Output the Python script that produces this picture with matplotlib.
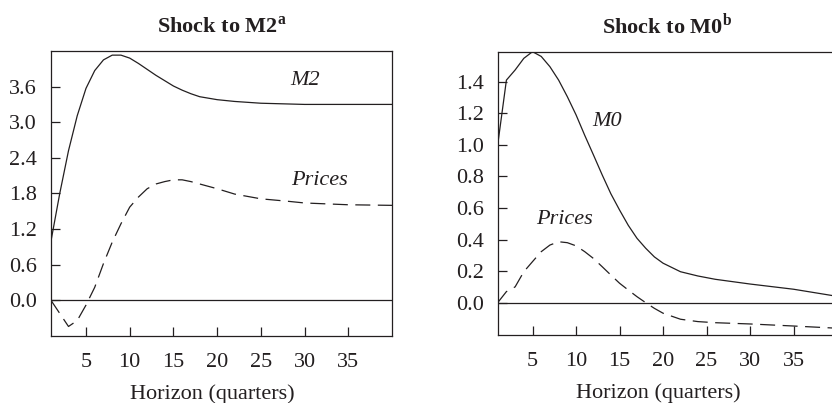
import matplotlib
matplotlib.use('Agg')
import matplotlib.pyplot as plt
import numpy as np

plt.rcParams['font.family'] = 'Liberation Serif'
plt.rcParams['mathtext.fontset'] = 'custom'
plt.rcParams['mathtext.rm'] = 'Liberation Serif'
plt.rcParams['mathtext.bf'] = 'Liberation Serif:bold'

ink = '#231f20'

# Shock to M2 (left panel)
m2_h = [1, 2, 3, 4, 5, 6, 7, 8, 9, 10, 11, 12, 13, 14, 15, 16, 17, 18, 20, 22, 25, 30, 35, 40]
m2_resp = [1.0, 1.80, 2.52, 3.11, 3.57, 3.87, 4.05, 4.13, 4.13, 4.08, 3.99, 3.89, 3.79,
           3.70, 3.61, 3.54, 3.48, 3.43, 3.38, 3.35, 3.32, 3.30, 3.30, 3.30]
p2_h = [1, 3, 4, 5, 6, 7, 8, 9, 10, 11, 12, 13, 14, 15, 16, 17, 18, 20, 22, 25, 28, 30, 35, 40]
p2_resp = [0.0, -0.44, -0.34, -0.08, 0.22, 0.62, 0.98, 1.29, 1.57, 1.74, 1.88, 1.96,
           2.00, 2.03, 2.03, 2.00, 1.96, 1.88, 1.79, 1.71, 1.67, 1.64, 1.61, 1.60]

# Shock to M0 (right panel)
m0_h = [1, 2, 3, 4, 5, 6, 7, 8, 9, 10, 11, 12, 13, 14, 15, 16, 17, 18, 19, 20,
        22, 24, 26, 28, 30, 35, 40]
m0_resp = [1.0, 1.41, 1.474, 1.548, 1.59, 1.56, 1.495, 1.41, 1.305, 1.19, 1.06, 0.936,
           0.81, 0.69, 0.587, 0.49, 0.408, 0.345, 0.29, 0.25, 0.196, 0.169, 0.148,
           0.133, 0.118, 0.085, 0.04]
p0_h = [1, 2, 3, 4, 5, 6, 7, 8, 9, 10, 11, 12, 13, 14, 15, 16, 17, 18, 19, 20,
        22, 24, 26, 30, 35, 40]
p0_resp = [0.0, 0.07, 0.10, 0.196, 0.26, 0.323, 0.365, 0.386, 0.38, 0.36, 0.323, 0.28,
           0.228, 0.175, 0.123, 0.08, 0.038, 0.0, -0.036, -0.067, -0.105, -0.12,
           -0.127, -0.135, -0.148, -0.162]

xticks = [5, 10, 15, 20, 25, 30, 35]
yticks_m2 = [0.0, 0.6, 1.2, 1.8, 2.4, 3.0, 3.6]
yticks_m0 = [0.0, 0.2, 0.4, 0.6, 0.8, 1.0, 1.2, 1.4]

fig = plt.figure(figsize=(8.32, 4.03), dpi=100)
ax1 = fig.add_axes([0.0613, 0.1663, 0.4099, 0.7072])
ax2 = fig.add_axes([0.5982, 0.1687, 0.408, 0.703])

panels = [
    (ax1, m2_h, m2_resp, p2_h, p2_resp, yticks_m2, (-0.6, 4.2), r'Shock to M2$^{\mathbf{a}}$',
     ('M2', 30.1, 3.70), ('Prices', 31.75, 2.02)),
    (ax2, m0_h, m0_resp, p0_h, p0_resp, yticks_m0, (-0.205, 1.59), r'Shock to M0$^{\mathbf{b}}$',
     ('M0', 13.6, 1.147), ('Prices', 8.66, 0.524)),
]

for ax, mh, mr, ph, pr, yt, ylim, title, lab1, lab2 in panels:
    ax.plot(mh, mr, color=ink, lw=0.9)
    ax.plot(ph, pr, color=ink, lw=0.9, dashes=(12, 6))
    ax.axhline(0, color=ink, lw=0.9)
    ax.set_xlim(1, 40)
    ax.set_ylim(*ylim)
    ax.set_xticks(xticks)
    ax.set_yticks(yt)
    ax.set_yticklabels(['%.1f' % v for v in yt])
    ax.tick_params(direction='in', length=6.5, width=0.9, color=ink, labelcolor=ink,
                   labelsize=16)
    ax.tick_params(axis='y', pad=10)
    ax.tick_params(axis='x', pad=12)
    for s in ax.spines.values():
        s.set_linewidth(0.9)
        s.set_color(ink)
    ax.set_xlabel('Horizon (quarters)', fontsize=16, color=ink, labelpad=9)
    ax.xaxis.label.set_x(0.474)
    ax.set_title(title, fontsize=16, fontweight='bold', color=ink, pad=13)
    for txt, x, y in (lab1, lab2):
        ax.text(x, y, txt, fontsize=16, style='italic', color=ink, ha='center', va='center')

fig.savefig('out.png', dpi=100)
